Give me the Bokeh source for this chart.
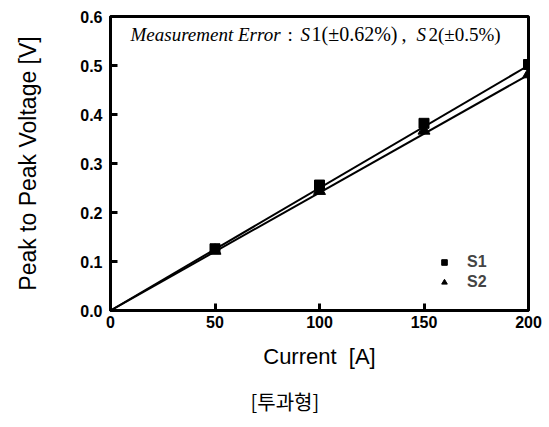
from bokeh.plotting import figure
from bokeh.models import Label, Title, Legend, LegendItem, Range1d, FixedTicker, CustomJSTickFormatter
from bokeh.embed import file_html
from bokeh.resources import INLINE

# data
current = [50, 100, 150, 200]
s1 = [0.126, 0.256, 0.382, 0.502]
s2 = [0.122, 0.244, 0.367, 0.482]
fit_x = [0, 200]
s1_fit = [0.0, 0.500]
s2_fit = [0.0, 0.481]
x_ticks = [0, 50, 100, 150, 200]
y_ticks = [0.0, 0.1, 0.2, 0.3, 0.4, 0.5, 0.6]

p = figure(frame_width=418, frame_height=294, output_backend="svg", toolbar_location=None,
           x_range=Range1d(0, 200), y_range=Range1d(0, 0.6),
           min_border_left=110, min_border_top=16, min_border_right=14, min_border_bottom=110)
p.grid.visible = False
p.outline_line_color = "black"
p.outline_line_width = 3

p.line(fit_x, s1_fit, line_color="black", line_width=2)
p.line(fit_x, s2_fit, line_color="black", line_width=2)
r1 = p.scatter(current, s1, marker="square", size=10, fill_color="black", line_color="black")
r2 = p.scatter(current, s2, marker="triangle", size=12, fill_color="black", line_color="black")

for ax in (p.xaxis, p.yaxis):
    ax.axis_line_width = 3
    ax.axis_line_color = "black"
    ax.major_tick_in = 7
    ax.major_tick_out = 0
    ax.major_tick_line_width = 3
    ax.minor_tick_line_color = None
    ax.major_label_text_font = "Liberation Sans"
    ax.major_label_text_font_style = "bold"
    ax.major_label_text_font_size = "16px"
    ax.major_label_text_color = "black"
    ax.axis_label_text_font = "Liberation Sans"
    ax.axis_label_text_font_style = "normal"
    ax.axis_label_text_color = "black"

p.xaxis.ticker = FixedTicker(ticks=x_ticks)
p.yaxis.ticker = FixedTicker(ticks=y_ticks)
p.yaxis.formatter = CustomJSTickFormatter(code="return tick.toFixed(1);")
p.xaxis.axis_label = "Current\u00a0\u00a0[A]"
p.yaxis.axis_label = "Peak to Peak Voltage [V]"
p.xaxis.axis_label_text_font_size = "22px"
p.yaxis.axis_label_text_font_size = "23px"
p.xaxis.axis_label_standoff = 13
p.yaxis.axis_label_standoff = 36
p.xaxis.major_label_standoff = 5
p.yaxis.major_label_standoff = 8

cap = Title(text="[투과형]", align="left", offset=140, text_font="Noto Sans CJK KR",
            text_font_size="20px", text_font_style="normal", text_color="black",
            standoff=26)
p.add_layout(cap, "below")

# annotation text pieces (data units)
def px2x(px):
    return (px - 110) / 418 * 200

yb = 0.564
pieces = [
    (130, "Measurement Error", "italic", "19px"),
    (287, ":", "normal", "19px"),
    (300, "S", "italic", "19px"),
    (311, "1(±0.62%)", "normal", "20px"),
    (401, ",", "normal", "20px"),
    (416, "S", "italic", "19px"),
    (428, "2(±0.5%)", "normal", "19px"),
]
for px, t, st, fs in pieces:
    p.add_layout(Label(x=px2x(px), y=yb, text=t, text_font="Liberation Serif",
                       text_font_style=st, text_font_size=fs, text_color="black",
                       text_baseline="middle"))

leg = Legend(items=[LegendItem(label="S1", renderers=[r1]),
                    LegendItem(label="S2", renderers=[r2])],
             location=(326, 19), border_line_color=None, background_fill_alpha=0,
             label_text_font="Liberation Sans", label_text_font_style="bold",
             label_text_font_size="16px", glyph_width=16, glyph_height=14,
             spacing=2, margin=0, padding=0, label_standoff=15)
p.add_layout(leg)

open("out.html", "w").write(file_html(p, INLINE))
